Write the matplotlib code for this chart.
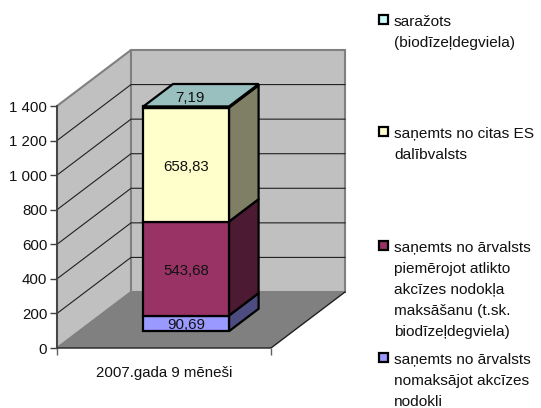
import matplotlib
matplotlib.use('Agg')
import matplotlib.pyplot as plt
from matplotlib.patches import Polygon, Rectangle

plt.rcParams['font.family'] = ['Liberation Sans', 'DejaVu Sans']

# Data, bottom to top
category = '2007.gada 9 mēneši'
values = [90.69, 543.68, 658.83, 7.19]
labels = [
    ['saņemts no ārvalsts', 'nomaksājot akcīzes', 'nodokli'],
    ['saņemts no ārvalsts', 'piemērojot atlikto', 'akcīzes nodokļa', 'maksāšanu (t.sk.', 'biodīzeļdegviela)'],
    ['saņemts no citas ES', 'dalībvalsts'],
    ['saražots', '(biodīzeļdegviela)'],
]
yticks = [0, 200, 400, 600, 800, 1000, 1200, 1400]

front_colors = ['#9999ff', '#993366', '#ffffcc', '#ccffff']
side_colors = ['#4c4c80', '#4c1a33', '#7f7f66', '#667f7f']
top_color = '#99bfbf'
legend_top = [360, 248, 134, 22]

W, H = 541, 408
FS = 10.8
fig = plt.figure(figsize=(W / 100, H / 100), dpi=100)
ax = fig.add_axes([57 / W, (H - 348) / H, 214 / W, 242 / H])
ax.set_xlim(0, 1)
ax.set_ylim(0, 1400)
ax.patch.set_visible(False)

# oblique depth offset, full depth in data units
DX = 74 / 214
DY = 56 / 242 * 1400


def pt(x, y, z):
    return (x + z * DX, y + z * DY)


def face(points, color, edge='black', lw=1.0, zorder=2):
    ax.add_patch(Polygon(points, closed=True, facecolor=color, edgecolor=edge,
                         linewidth=lw, clip_on=False, zorder=zorder, joinstyle='miter'))


# walls and floor
face([pt(0, 0, 0), pt(0, 0, 1), pt(0, 1400, 1), pt(0, 1400, 0)], '#c0c0c0', '#808080', 1.5, 1)
face([pt(0, 0, 1), pt(1, 0, 1), pt(1, 1400, 1), pt(0, 1400, 1)], '#c0c0c0', '#808080', 1.5, 1)
face([pt(0, 0, 0), pt(1, 0, 0), pt(1, 0, 1), pt(0, 0, 1)], '#808080', 'none', 0, 1.2)
ax.plot(*zip(pt(0, 0, 0), pt(1, 0, 0), pt(1, 0, 1)), color='#202020', lw=1.0, clip_on=False, zorder=1.3)

# gridlines
for t in yticks[1:-1]:
    ax.plot(*zip(pt(0, t, 0), pt(0, t, 1), pt(1, t, 1)), color='#202020', lw=0.8,
            clip_on=False, zorder=1.5)

# stacked bar
x0, x1 = 0.3, 0.7
z0, z1 = 0.3, 0.7
base = 0
for i, v in enumerate(values):
    top = base + v
    face([pt(x1, base, z0), pt(x1, base, z1), pt(x1, top, z1), pt(x1, top, z0)], side_colors[i], lw=1.6, zorder=3)
    face([pt(x0, base, z0), pt(x1, base, z0), pt(x1, top, z0), pt(x0, top, z0)], front_colors[i], lw=1.6, zorder=4)
    text = f'{v:.2f}'.replace('.', ',')
    if i == len(values) - 1:
        face([pt(x0, top, z0), pt(x1, top, z0), pt(x1, top, z1), pt(x0, top, z1)], top_color, lw=1.6, zorder=4)
        lx, ly = pt((x0 + x1) / 2, top, (z0 + z1) / 2)
        off = (-8, -2)
    else:
        lx, ly = pt((x0 + x1) / 2, base + v / 2, z0)
        off = (0, -1.5)
    ax.annotate(text, (lx, ly), xytext=off, textcoords='offset points', ha='center', va='center',
                fontsize=FS, color='#111111', zorder=5, annotation_clip=False)
    base = top

# axes
ax.spines['top'].set_visible(False)
ax.spines['right'].set_visible(False)
ax.spines['bottom'].set_visible(False)
ax.spines['left'].set_color('#404040')
ax.spines['left'].set_linewidth(1.3)
ax.spines['left'].set_zorder(1.6)
ax.set_yticks(yticks)
ax.set_yticklabels([f'{t:,}'.replace(',', ' ') for t in yticks], fontsize=FS, color='#111111')
ax.tick_params(axis='y', length=5, width=1.0, color='#404040', pad=2)
ax.set_xticks([0, 1])
ax.set_xticklabels(['', ''])
ax.tick_params(axis='x', length=5, width=1.0, color='#606060')
ax.text(0.5, -0.105, category, transform=ax.transAxes, ha='center', va='center', fontsize=FS, color='#111111')

# legend
for lines, color, y in zip(labels, front_colors, legend_top):
    fig.add_artist(Rectangle((379 / W, 1 - (y + 1.5) / H), 8.5 / W, 8.5 / H, transform=fig.transFigure,
                             facecolor=color, edgecolor='black', linewidth=1.6))
    for k, line in enumerate(lines):
        fig.text(394 / W, 1 - (y + k * 20.9) / H, line, ha='left', va='center', fontsize=FS + 0.3, color='#111111')

fig.savefig('out.png', dpi=100)
